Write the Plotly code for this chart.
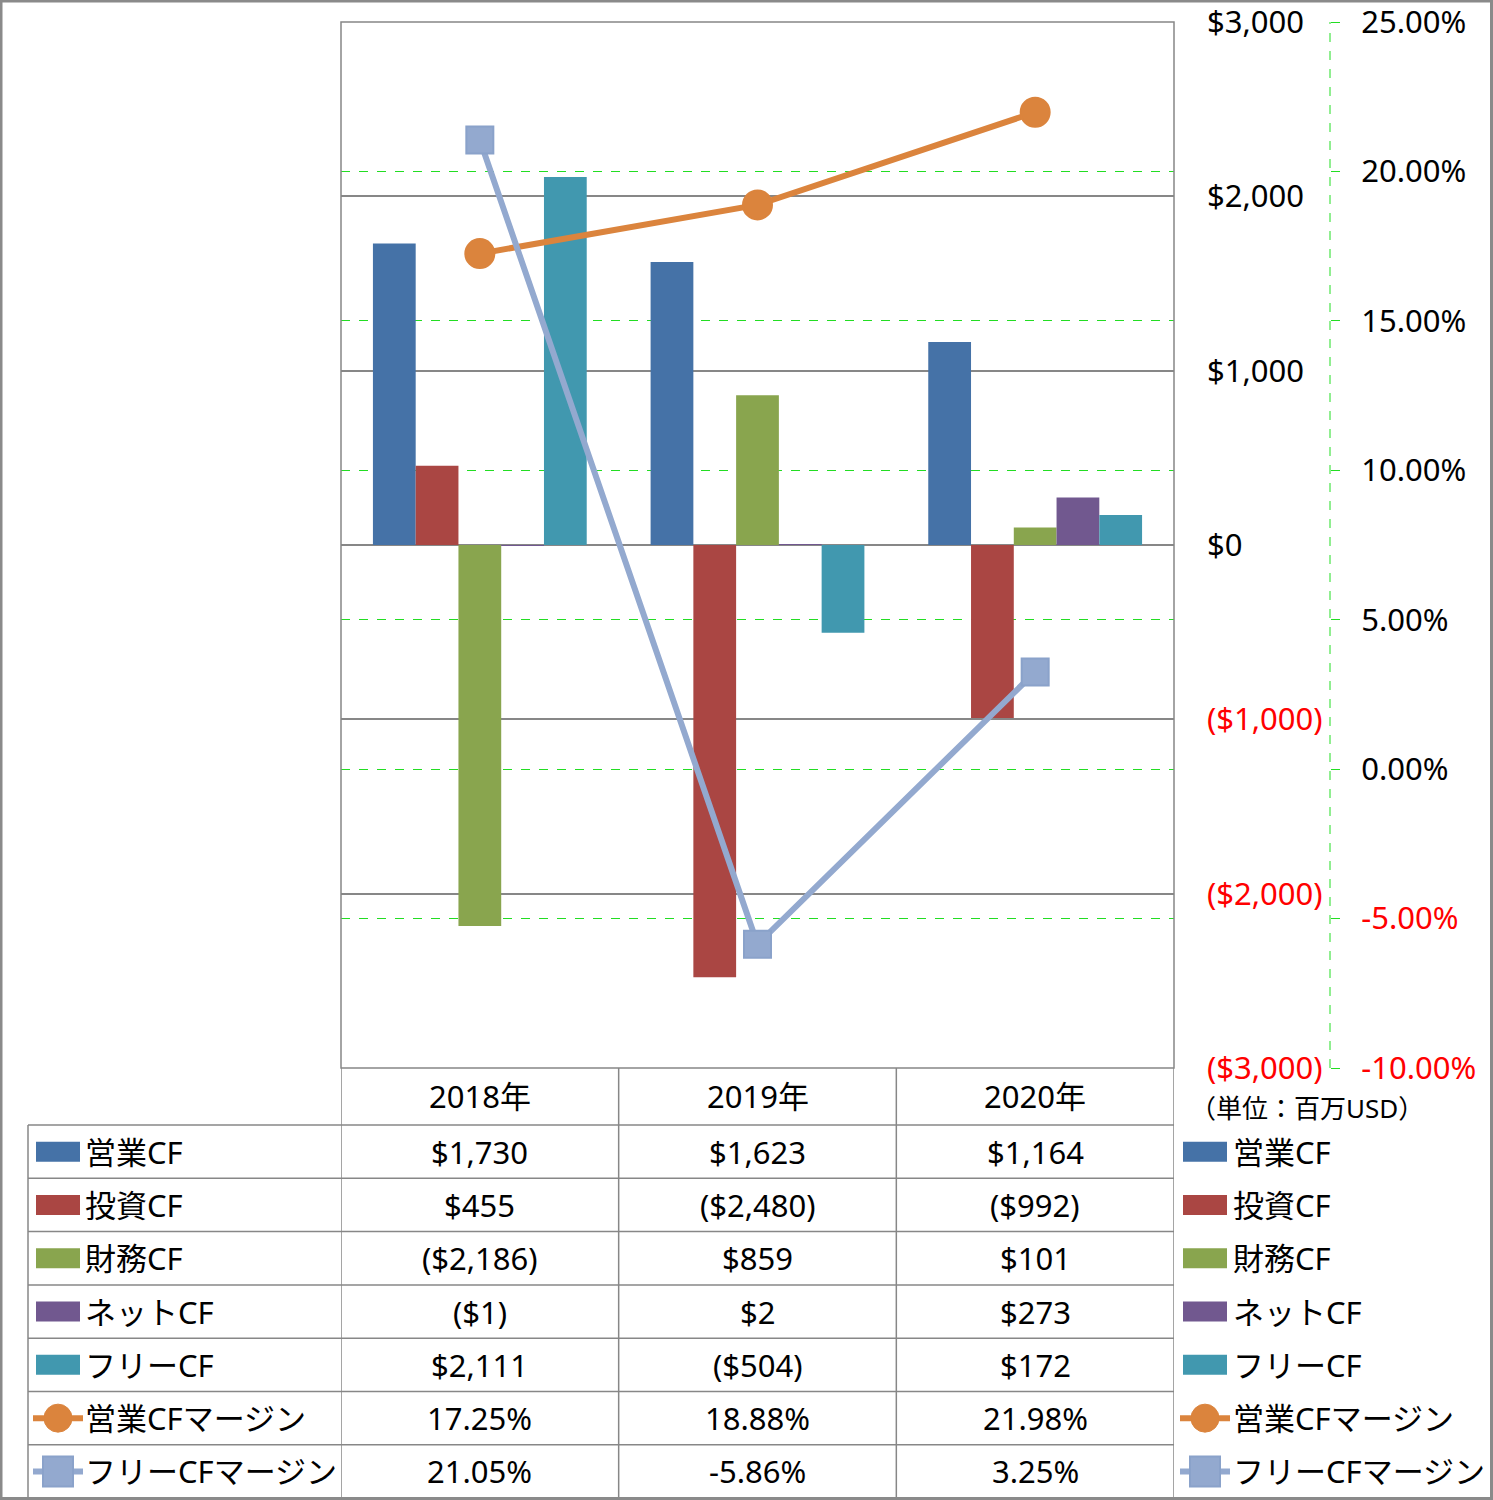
import plotly.graph_objects as go

# ---------------- data ----------------
categories = ["2018年", "2019年", "2020年"]
bar_names = ["営業CF", "投資CF", "財務CF", "ネットCF", "フリーCF"]
op_cf = [1730, 1623, 1164]
inv_cf = [455, -2480, -992]
fin_cf = [-2186, 859, 101]
net_cf = [-1, 2, 273]
free_cf = [2111, -504, 172]
line_names = ["営業CFマージン", "フリーCFマージン"]
op_margin = [17.25, 18.88, 21.98]
free_margin = [21.05, -5.86, 3.25]
usd_ticks = [-3000, -2000, -1000, 0, 1000, 2000, 3000]
usd_tick_labels = ["($3,000)", "($2,000)", "($1,000)", "$0", "$1,000", "$2,000", "$3,000"]
pct_ticks = [-10, -5, 0, 5, 10, 15, 20, 25]
pct_tick_labels = ["-10.00%", "-5.00%", "0.00%", "5.00%", "10.00%", "15.00%", "20.00%", "25.00%"]
unit_label = "（単位：百万USD）"

bar_series = [op_cf, inv_cf, fin_cf, net_cf, free_cf]
line_series = [op_margin, free_margin]

# ---------------- styles ----------------
bar_colors = ["#4572A7", "#AA4643", "#89A54E", "#71588F", "#4198AF"]
line_colors = ["#DB843D", "#93A9CF"]
line_marker_edge = ["#DB843D", "#8AA2CA"]
GRID = "#878787"
GREEN = "#22DD22"
FONT = "Noto Sans, Noto Sans CJK JP, sans-serif"
FS = 31

W, H = 1493, 1500
PX0, PX1, PY0, PY1 = 341, 1174, 22, 1068


def py(p):  # pixel y -> paper y
    return (PY1 - p) / (PY1 - PY0)


def pxx(p):  # pixel x -> paper x
    return p / W


def red_neg(label, neg):
    return f"<span style='color:#FF0000'>{label}</span>" if neg else label


def fmt_usd(v):
    return f"${v:,}" if v >= 0 else f"(${-v:,})"


def fmt_pct(v):
    return f"{v:.2f}%"


fig = go.Figure()

for name, vals, col in zip(bar_names, bar_series, bar_colors):
    fig.add_trace(go.Bar(x=categories, y=vals, name=name, marker_color=col,
                         marker_line_width=0, showlegend=False, yaxis="y"))

symbols = ["circle", "square"]
for name, vals, col, edge, sym in zip(line_names, line_series, line_colors, line_marker_edge, symbols):
    fig.add_trace(go.Scatter(x=categories, y=vals, name=name, yaxis="y2",
                             mode="lines+markers",
                             line=dict(color=col, width=6),
                             marker=dict(symbol=sym, size=27 if sym == "square" else 29,
                                         color=col, line=dict(color=edge, width=2)),
                             showlegend=False))

shapes = []
ann = []

# plot area border
shapes.append(dict(type="rect", xref="paper", yref="paper", x0=pxx(PX0), x1=pxx(PX1), y0=0, y1=1,
                   line=dict(color=GRID, width=1.5)))
# secondary axis dashed line
shapes.append(dict(type="line", xref="paper", yref="paper", x0=pxx(1330), x1=pxx(1330), y0=0, y1=1,
                   line=dict(color=GREEN, width=1, dash="dash")))

# table lines
row_edges = [1125, 1178.3, 1231.6, 1284.9, 1338.2, 1391.5, 1444.8, 1498]
for yy in row_edges[:-1]:
    shapes.append(dict(type="line", xref="paper", yref="paper", x0=pxx(28), x1=pxx(PX1),
                       y0=py(yy), y1=py(yy), line=dict(color=GRID, width=1.5)))
for xb in [-0.5, 0.5, 1.5, 2.5]:
    shapes.append(dict(type="line", xref="x", yref="paper", x0=xb, x1=xb,
                       y0=py(PY1), y1=py(1498), line=dict(color=GRID, width=1.5)))
shapes.append(dict(type="line", xref="paper", yref="paper", x0=pxx(28), x1=pxx(28),
                   y0=py(1125), y1=py(1498), line=dict(color=GRID, width=1.5)))
# outer border
shapes.append(dict(type="rect", xref="paper", yref="paper", x0=pxx(1), x1=pxx(W - 1.5),
                   y0=py(H - 1.5), y1=py(1), line=dict(color="#8A8A8A", width=3)))

# header
for c in categories:
    ann.append(dict(x=c, xref="x", y=py(1096), yref="paper", text=c, showarrow=False,
                    font=dict(size=FS, color="black", family=FONT), xanchor="center", yanchor="middle"))

row_centers = [(row_edges[i] + row_edges[i + 1]) / 2 for i in range(7)]
all_names = bar_names + line_names
all_vals = bar_series + line_series
for i, (name, vals) in enumerate(zip(all_names, all_vals)):
    yc = row_centers[i]
    is_pct = i >= 5
    for c, v in zip(categories, vals):
        ann.append(dict(x=c, xref="x", y=py(yc), yref="paper",
                        text=fmt_pct(v) if is_pct else fmt_usd(v), showarrow=False,
                        font=dict(size=FS, color="black", family=FONT), xanchor="center", yanchor="middle"))
    for (sx0, tx) in [(36, 83), (1183, 1231)]:
        ann.append(dict(x=pxx(tx), xref="paper", y=py(yc), yref="paper", text=name, showarrow=False,
                        font=dict(size=FS, color="black", family=FONT), xanchor="left", yanchor="middle"))
        if not is_pct:
            shapes.append(dict(type="rect", xref="paper", yref="paper", x0=pxx(sx0), x1=pxx(sx0 + 44),
                               y0=py(yc - 10), y1=py(yc + 10), fillcolor=bar_colors[i], line=dict(width=0)))
        else:
            k = i - 5
            lx0 = sx0 - 3
            cx = lx0 + 25
            shapes.append(dict(type="line", xref="paper", yref="paper", x0=pxx(lx0), x1=pxx(lx0 + 50),
                               y0=py(yc), y1=py(yc), line=dict(color=line_colors[k], width=6)))
            if k == 0:
                shapes.append(dict(type="circle", xref="paper", yref="paper", x0=pxx(cx - 14), x1=pxx(cx + 14),
                                   y0=py(yc - 14), y1=py(yc + 14), fillcolor=line_colors[k],
                                   line=dict(color=line_marker_edge[k], width=1)))
            else:
                shapes.append(dict(type="rect", xref="paper", yref="paper", x0=pxx(cx - 15), x1=pxx(cx + 15),
                                   y0=py(yc - 15), y1=py(yc + 15), fillcolor=line_colors[k],
                                   line=dict(color=line_marker_edge[k], width=2)))

# unit label
ann.append(dict(x=pxx(1307), xref="paper", y=py(1108), yref="paper", text=unit_label, showarrow=False,
                font=dict(size=26, color="black", family=FONT), xanchor="center", yanchor="middle"))

fig.update_layout(
    width=W, height=H,
    margin=dict(l=0, r=0, t=PY0, b=H - PY1, pad=0),
    paper_bgcolor="white", plot_bgcolor="white",
    font=dict(family=FONT, size=FS, color="black"),
    barmode="group", bargap=0.23, bargroupgap=0,
    xaxis=dict(domain=[pxx(PX0), pxx(PX1)], type="category", range=[-0.5, 2.5],
               showticklabels=False, showgrid=False, zeroline=False, showline=False, ticks=""),
    yaxis=dict(side="right", anchor="x", range=[-3000, 3000], tickvals=usd_ticks,
               ticktext=[red_neg(t, v < 0) for t, v in zip(usd_tick_labels, usd_ticks)],
               showgrid=True, gridcolor=GRID, gridwidth=1.5, zeroline=False, showline=False,
               ticks="", ticklabelstandoff=32, ticklabeloverflow="allow",
               tickfont=dict(size=FS, color="black", family=FONT)),
    yaxis2=dict(overlaying="y", side="right", anchor="free", position=pxx(1330), range=[-10, 25],
                tickvals=pct_ticks,
                ticktext=[red_neg(t, v < 0) for t, v in zip(pct_tick_labels, pct_ticks)],
                showgrid=True, gridcolor=GREEN, gridwidth=1, griddash="dash", zeroline=False,
                showline=False, ticks="outside", ticklen=9, tickcolor=GREEN, tickwidth=1,
                ticklabelstandoff=15, ticklabeloverflow="allow",
                tickfont=dict(size=FS, color="black", family=FONT)),
    shapes=shapes, annotations=ann, showlegend=False,
)

fig.write_html("out.html", post_script="document.body.style.margin='0px';",
               config={"displayModeBar": False})
